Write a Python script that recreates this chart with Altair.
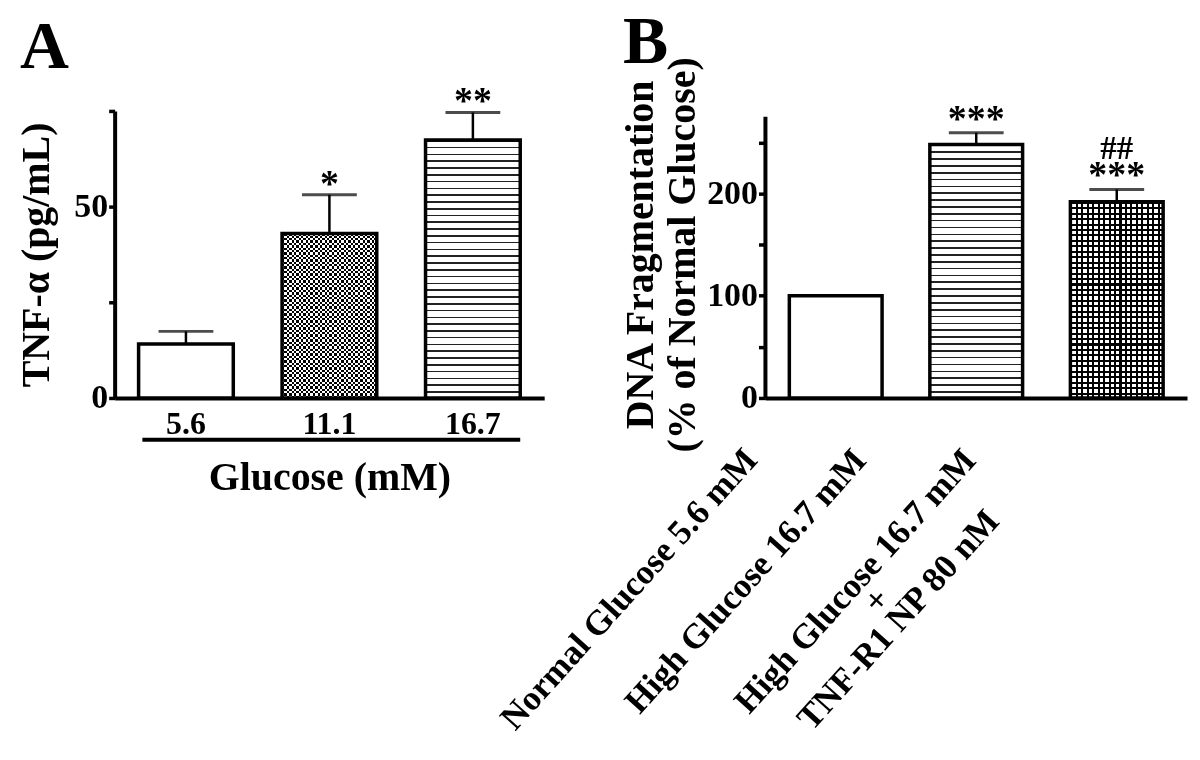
import altair as alt
import pandas as pd

FONT = "Liberation Serif"

# ---------------- data ----------------
a_cats = ["5.6", "11.1", "16.7"]
a_means = [14.1, 43.0, 67.4]
a_errs = [3.3, 10.1, 7.2]
a_sig = ["", "*", "**"]

b_cats = ["Normal Glucose 5.6 mM", "High Glucose 16.7 mM",
          "High Glucose 16.7 mM|+|TNF-R1 NP 80 nM"]
b_means = [100, 248, 192]
b_errs = [0, 11.5, 12.0]
b_sig = ["", "***", "***"]
b_hash = ["", "", "##"]

# ---------------- sizes ----------------
A_W, A_H = 431, 288
B_W, B_H = 423, 288
A_MAX = 75
B_MAX = 280.8


def stripes(n, frac, line, bg, vertical=False):
    stops = []
    for i in range(n):
        s = round(i / n, 5)
        m = round((i + frac) / n, 5)
        e = round((i + 1) / n, 5)
        stops += [{"offset": s, "color": line}, {"offset": m, "color": line},
                  {"offset": m, "color": bg}, {"offset": e, "color": bg}]
    g = {"gradient": "linear", "stops": stops}
    if vertical:
        g.update(x1=0, y1=0, x2=1, y2=0)
    else:
        g.update(x1=0, y1=0, x2=0, y2=1)
    return g


BLACK = "#000000"
WHITE = "#ffffff"
CLEAR = "rgba(0,0,0,0)"

# ---------------- panel A ----------------
a_df = pd.DataFrame({"cat": a_cats, "mean": a_means, "err": a_errs, "sig": a_sig})
a_df["upper"] = a_df["mean"] + a_df["err"]

a_xscale = alt.Scale(domain=a_cats, paddingInner=0.34, paddingOuter=0.167)
a_xaxis = alt.Axis(title="Glucose (mM)", labelAngle=0, labelFontSize=32, labelPadding=11,
                   ticks=False, tickSize=0, titleFontSize=40, titlePadding=18,
                   domainWidth=4, labelBaseline="top")
a_yscale = alt.Scale(domain=[0, A_MAX], nice=False)
a_yaxis = alt.Axis(title="TNF-α (pg/mL)", values=[0, 25, 50, 75],
                   labelExpr="datum.value % 50 == 0 ? datum.label : ''",
                   tickSize=6, tickWidth=3.5, labelFontSize=34, labelPadding=1,
                   titleFontSize=40, titlePadding=17, domainWidth=4)


def ax(field="cat:N"):
    return alt.X(field, scale=a_xscale, axis=a_xaxis)


def ay(field):
    return alt.Y(field, scale=a_yscale, axis=a_yaxis)


baseA = alt.Chart(a_df)

a_white = baseA.mark_bar(fill=WHITE).encode(x=ax(), y=ay("mean:Q"))
a_chk_v = baseA.transform_filter(alt.datum.cat == "11.1").mark_bar(
    fill=stripes(20, 0.5, BLACK, WHITE, vertical=True)).encode(x=ax(), y=ay("mean:Q"))
a_chk_h = baseA.transform_filter(alt.datum.cat == "11.1").mark_bar(
    fill=stripes(round(43.0 / A_MAX * A_H / 4.75), 0.5, WHITE, BLACK),
    blend="difference").encode(x=ax(), y=ay("mean:Q"))
a_lines = baseA.transform_filter(alt.datum.cat == "16.7").mark_bar(
    fill=stripes(round(67.4 / A_MAX * A_H / 6.8), 0.24, "#222222", WHITE)).encode(
    x=ax(), y=ay("mean:Q"))
a_outline = baseA.mark_bar(fill="transparent", stroke=BLACK, strokeWidth=3.5).encode(
    x=ax(), y=ay("mean:Q"))
a_stem = baseA.mark_rule(color=BLACK, strokeWidth=2.5).encode(
    x=ax(), y=ay("mean:Q"), y2="upper:Q")
a_cap = baseA.mark_tick(color=BLACK, size=55, thickness=3).encode(x=ax(), y=ay("upper:Q"))
a_text = baseA.mark_text(font=FONT, fontWeight="bold", fontSize=38, baseline="alphabetic",
                         dy=1, color=BLACK).encode(x=ax(), y=ay("upper:Q"), text="sig:N")
a_under = alt.Chart(pd.DataFrame({"s": [a_cats[0]], "e": [a_cats[-1]]})).mark_rule(
    color=BLACK, strokeWidth=4).encode(
    x=alt.X("s:N", bandPosition=0.04, scale=a_xscale, axis=a_xaxis),
    x2=alt.X2("e", bandPosition=1),
    y=alt.value(A_H + 42))
a_letter = alt.Chart(pd.DataFrame({"t": ["A"]})).mark_text(
    font=FONT, fontWeight="bold", fontSize=68, align="left", baseline="alphabetic",
    color=BLACK).encode(text="t:N", x=alt.value(-95), y=alt.value(-43))

panelA = alt.layer(a_white, a_chk_v, a_chk_h, a_lines, a_outline, a_stem, a_cap,
                   a_text, a_under, a_letter).properties(width=A_W, height=A_H)

# ---------------- panel B ----------------
b_df = pd.DataFrame({"cat": b_cats, "mean": b_means, "err": b_errs,
                     "sig": b_sig, "hash": b_hash})
b_df["upper"] = b_df["mean"] + b_df["err"]

b_xscale = alt.Scale(domain=b_cats, paddingInner=0.34, paddingOuter=0.17)
b_xaxis = alt.Axis(
    title=None, labelAngle=-48, labelAlign="center", labelBaseline="top",
    labelFontSize=35, labelLineHeight=29, ticks=False, tickSize=0,
    labelLimit=1000, labelOverlap=False,
    labelExpr="split(datum.label, '|')",
    labelPadding={"condition": [
        {"test": "datum.value === 'Normal Glucose 5.6 mM'", "value": 180}],
        "value": 172},
    labelOffset={"condition": [
        {"test": "datum.value === 'Normal Glucose 5.6 mM'", "value": -220},
        {"test": "datum.value === 'High Glucose 16.7 mM'", "value": -244}],
        "value": -275},
    domainWidth=4)
b_yscale = alt.Scale(domain=[0, B_MAX], nice=False)
b_yaxis = alt.Axis(title=["DNA Fragmentation", "(% of Normal Glucose)"],
                   values=[0, 50, 100, 150, 200, 250],
                   labelExpr="datum.value % 100 == 0 ? datum.label : ''",
                   tickSize=7, tickWidth=3.5, labelFontSize=34, labelPadding=1,
                   titleFontSize=40, titleLineHeight=42, titlePadding=4, domain=False)


def bx(field="cat:N"):
    return alt.X(field, scale=b_xscale, axis=b_xaxis)


def by(field):
    return alt.Y(field, scale=b_yscale, axis=b_yaxis)


baseB = alt.Chart(b_df)
cat2 = b_cats[1]
cat3 = b_cats[2]
b_px = B_H / B_MAX

b_white = baseB.mark_bar(fill=WHITE).encode(x=bx(), y=by("mean:Q"))
b_lines = baseB.transform_filter(alt.datum.cat == cat2).mark_bar(
    fill=stripes(round(248 * b_px / 6.8), 0.24, "#222222", WHITE)).encode(
    x=bx(), y=by("mean:Q"))
b_grid_h = baseB.transform_filter(alt.datum.cat == cat3).mark_bar(
    fill=stripes(round(192 * b_px / 5.5), 0.38, BLACK, CLEAR)).encode(
    x=bx(), y=by("mean:Q"))
b_grid_v = baseB.transform_filter(alt.datum.cat == cat3).mark_bar(
    fill=stripes(17, 0.38, BLACK, CLEAR, vertical=True)).encode(
    x=bx(), y=by("mean:Q"))
b_outline = baseB.mark_bar(fill="transparent", stroke=BLACK, strokeWidth=3.5).encode(
    x=bx(), y=by("mean:Q"))
b_err = baseB.transform_filter(alt.datum.err > 0)
b_stem = b_err.mark_rule(color=BLACK, strokeWidth=2.5).encode(
    x=bx(), y=by("mean:Q"), y2="upper:Q")
b_cap = b_err.mark_tick(color=BLACK, size=55, thickness=3).encode(x=bx(), y=by("upper:Q"))
b_text = baseB.mark_text(font=FONT, fontWeight="bold", fontSize=38, baseline="alphabetic",
                         dy=-2, color=BLACK).encode(x=bx(), y=by("upper:Q"), text="sig:N")
b_hash_t = baseB.mark_text(font=FONT, fontWeight="bold", fontSize=33, baseline="alphabetic",
                           dy=-31, color=BLACK).encode(x=bx(), y=by("upper:Q"), text="hash:N")
b_yline = alt.Chart(pd.DataFrame({"y0": [0], "y1": [275]})).mark_rule(
    color=BLACK, strokeWidth=4).encode(
    x=alt.value(0), y=alt.Y("y0:Q", scale=b_yscale, axis=b_yaxis), y2="y1:Q")
b_letter = alt.Chart(pd.DataFrame({"t": ["B"]})).mark_text(
    font=FONT, fontWeight="bold", fontSize=68, align="left", baseline="alphabetic",
    color=BLACK).encode(text="t:N", x=alt.value(-143), y=alt.value(-48))

panelB = alt.layer(b_white, b_lines, b_grid_h, b_grid_v, b_outline, b_stem, b_cap,
                   b_text, b_hash_t, b_yline, b_letter).properties(width=B_W, height=B_H)

chart = alt.hconcat(panelA, panelB, spacing=222, bounds="flush").properties(
    padding={"left": 8, "top": 0, "right": 5, "bottom": 5},
    background="white",
).configure_view(stroke=None).configure_axis(
    labelFont=FONT, titleFont=FONT, labelFontWeight="bold", titleFontWeight="bold",
    labelColor=BLACK, titleColor=BLACK, domainColor=BLACK, tickColor=BLACK, grid=False,
)

chart.save("out.html", embed_options={"renderer": "svg", "actions": False})
